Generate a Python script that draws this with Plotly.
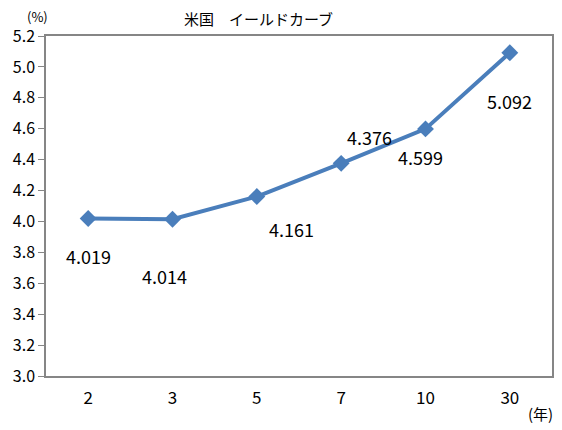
import plotly.graph_objects as go

categories = ["2", "3", "5", "7", "10", "30"]
yields = [4.019, 4.014, 4.161, 4.376, 4.599, 5.092]
label_text = ["4.019", "4.014", "4.161", "4.376", "4.599", "5.092"]
y_ticks = [3.0, 3.2, 3.4, 3.6, 3.8, 4.0, 4.2, 4.4, 4.6, 4.8, 5.0, 5.2]

# label offsets (pixels) relative to each point
label_dx = [0, -8, 35, 28, -5, 0]
label_dy = [-37, -57, -32, 26, -28, -48]

FONT = "Noto Sans CJK JP"
LINE = "#4a7ebb"

idx = list(range(len(categories)))

fig = go.Figure()
fig.add_trace(go.Scatter(
    x=idx, y=yields, mode="lines+markers",
    line=dict(color=LINE, width=4),
    marker=dict(symbol="diamond", size=13, color=LINE),
    showlegend=False, hoverinfo="skip",
))

for i, v, t, dx, dy in zip(idx, yields, label_text, label_dx, label_dy):
    fig.add_annotation(x=i, y=v, text=t, showarrow=False, xshift=dx, yshift=dy,
                       xanchor="center", yanchor="middle",
                       font=dict(family=FONT, size=18, color="#000000"))

PW, PH = 506, 340
fig.add_annotation(xref="paper", yref="paper", x=(258 - 46) / PW, y=1 + 17 / PH,
                   xanchor="center", yanchor="middle", borderpad=0,
                   text="米国　イールドカーブ", showarrow=False,
                   font=dict(family=FONT, size=15, color="#000000"))
fig.add_annotation(xref="paper", yref="paper", x=(37 - 46) / PW, y=1 + 19 / PH,
                   xanchor="center", yanchor="middle", borderpad=0,
                   text="(%)", showarrow=False,
                   font=dict(family=FONT, size=13, color="#000000"))
fig.add_annotation(xref="paper", yref="paper", x=(540 - 46) / PW, y=-(413 - 376) / PH,
                   xanchor="center", yanchor="middle",
                   text="(年)", showarrow=False,
                   font=dict(family=FONT, size=15, color="#000000"))

fig.update_layout(
    width=548, height=416,
    margin=dict(l=38, r=4, t=28, b=48, autoexpand=False),
    paper_bgcolor="white", plot_bgcolor="white",
    font=dict(family=FONT, size=17, color="#000000"),
)
fig.update_xaxes(range=[-0.5, len(categories) - 0.5], tickvals=idx, ticktext=categories,
                 showline=True, mirror=True, linecolor="#868686",
                 linewidth=1.5, showgrid=False, ticks="", ticklabelstandoff=6,
                 zeroline=False, automargin=False,
                 tickfont=dict(family=FONT, size=17))
fig.update_yaxes(range=[3.0, 5.2], tickvals=y_ticks,
                 ticktext=[f"{v:.1f}" for v in y_ticks],
                 showline=True, mirror=True, linecolor="#868686", linewidth=1.5,
                 showgrid=False, ticks="outside", ticklen=6, tickcolor="#868686",
                 zeroline=False, automargin=False, tickfont=dict(family=FONT, size=16))

fig.write_html("out.html")
